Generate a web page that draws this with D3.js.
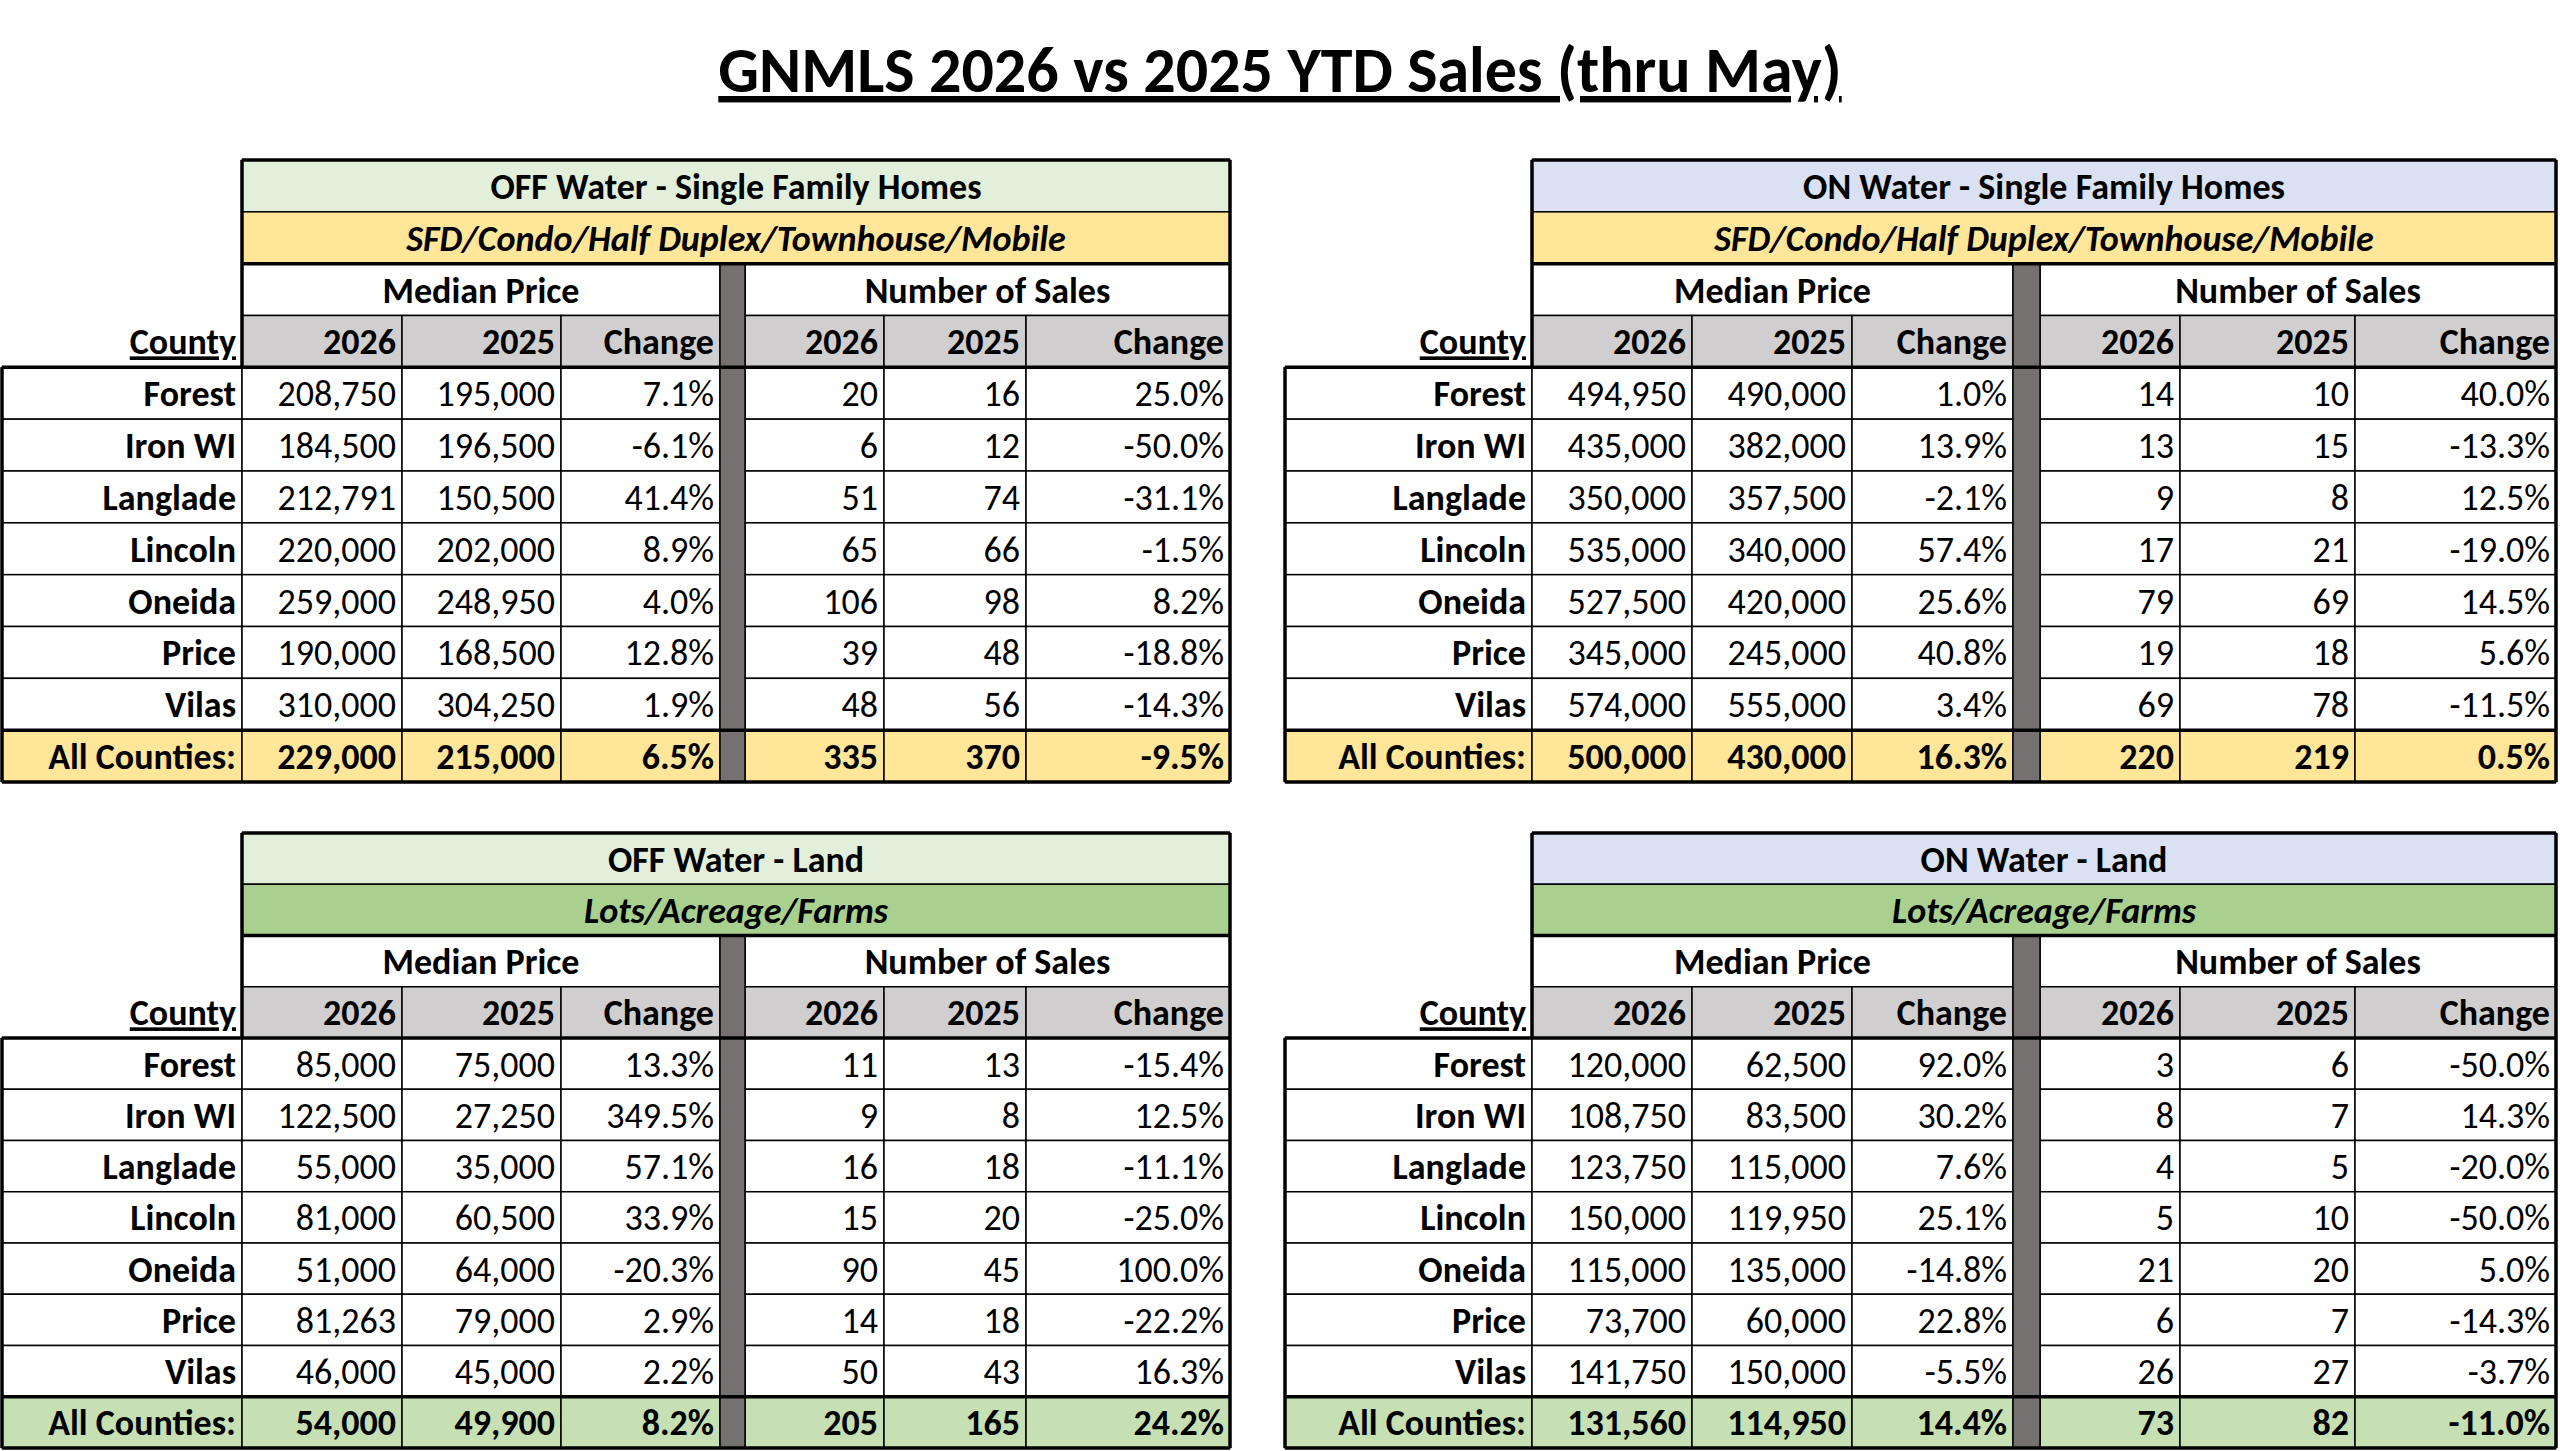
<!DOCTYPE html>
<html><head><meta charset="utf-8">
<script src="https://cdn.jsdelivr.net/npm/d3@7"></script>
<style>body{margin:0;background:#fff}svg{display:block}</style>
</head><body><svg id="c" width="2560" height="1451"></svg>
<script>
const counties = ["Forest","Iron WI","Langlade","Lincoln","Oneida","Price","Vilas"];
const totalLabel = "All Counties:";
const colHeads = ["2026","2025","Change","2026","2025","Change"];

const offHomes = [
  ["208,750","195,000","7.1%","20","16","25.0%"],
  ["184,500","196,500","-6.1%","6","12","-50.0%"],
  ["212,791","150,500","41.4%","51","74","-31.1%"],
  ["220,000","202,000","8.9%","65","66","-1.5%"],
  ["259,000","248,950","4.0%","106","98","8.2%"],
  ["190,000","168,500","12.8%","39","48","-18.8%"],
  ["310,000","304,250","1.9%","48","56","-14.3%"]];
const offHomesTotal = ["229,000","215,000","6.5%","335","370","-9.5%"];

const onHomes = [
  ["494,950","490,000","1.0%","14","10","40.0%"],
  ["435,000","382,000","13.9%","13","15","-13.3%"],
  ["350,000","357,500","-2.1%","9","8","12.5%"],
  ["535,000","340,000","57.4%","17","21","-19.0%"],
  ["527,500","420,000","25.6%","79","69","14.5%"],
  ["345,000","245,000","40.8%","19","18","5.6%"],
  ["574,000","555,000","3.4%","69","78","-11.5%"]];
const onHomesTotal = ["500,000","430,000","16.3%","220","219","0.5%"];

const offLand = [
  ["85,000","75,000","13.3%","11","13","-15.4%"],
  ["122,500","27,250","349.5%","9","8","12.5%"],
  ["55,000","35,000","57.1%","16","18","-11.1%"],
  ["81,000","60,500","33.9%","15","20","-25.0%"],
  ["51,000","64,000","-20.3%","90","45","100.0%"],
  ["81,263","79,000","2.9%","14","18","-22.2%"],
  ["46,000","45,000","2.2%","50","43","16.3%"]];
const offLandTotal = ["54,000","49,900","8.2%","205","165","24.2%"];

const onLand = [
  ["120,000","62,500","92.0%","3","6","-50.0%"],
  ["108,750","83,500","30.2%","8","7","14.3%"],
  ["123,750","115,000","7.6%","4","5","-20.0%"],
  ["150,000","119,950","25.1%","5","10","-50.0%"],
  ["115,000","135,000","-14.8%","21","20","5.0%"],
  ["73,700","60,000","22.8%","6","7","-14.3%"],
  ["141,750","150,000","-5.5%","26","27","-3.7%"]];
const onLandTotal = ["131,560","114,950","14.4%","73","82","-11.0%"];

const FONT = "'Liberation Sans Narrow','Carlito','Open Sans',sans-serif";
const svg = d3.select("#c");

svg.append("text").attr("x",1280).attr("y",92).attr("text-anchor","middle")
  .attr("font-family",FONT).attr("font-weight","bold").attr("font-size",64)
  .attr("text-decoration","underline").text("GNMLS 2026 vs 2025 YTD Sales (thru May)");

function table(x0, edges, y0, y1, t) {
  const g = svg.append("g").attr("font-family",FONT).attr("font-size",36);
  const rows = d3.range(12);
  const y = d3.scaleBand().domain(rows).range([y0,y1]);
  const h = y.bandwidth();
  const e = edges.map(v => v + x0);
  const colL = [e[1],e[2],e[3],e[5],e[6],e[7]];
  const colR = [e[2],e[3],e[4],e[6],e[7],e[8]];
  const rect = (x,yy,w,hh,fill,sw) => g.append("rect").attr("x",x).attr("y",yy).attr("width",w).attr("height",hh)
    .attr("fill",fill).attr("stroke","#000").attr("stroke-width",sw||1.5);
  const txt = (x,yy,s,anchor,opt) => {
    const tt = g.append("text").attr("x",x).attr("y",yy+h/2).attr("dy","0.36em").attr("text-anchor",anchor).text(s);
    if (opt && opt.bold) tt.attr("font-weight","bold");
    if (opt && opt.semi) tt.attr("font-weight",600);
    if (opt && opt.italic) tt.attr("font-style","italic");
    if (opt && opt.underline) tt.attr("text-decoration","underline");
    return tt;
  };
  rect(e[1],y(0),e[8]-e[1],h,t.head1);
  txt((e[1]+e[8])/2,y(0),t.title,"middle",{semi:true});
  rect(e[1],y(1),e[8]-e[1],h,t.head2);
  txt((e[1]+e[8])/2,y(1),t.sub,"middle",{bold:true,italic:true});
  rect(e[1],y(2),e[4]-e[1],h,"#fff");
  rect(e[5],y(2),e[8]-e[5],h,"#fff");
  txt((e[1]+e[4])/2,y(2),"Median Price","middle",{semi:true});
  txt((e[5]+e[8])/2,y(2),"Number of Sales","middle",{semi:true});
  txt(e[1]-6,y(3),"County","end",{bold:true,underline:true});
  colHeads.forEach((s,i) => {
    rect(colL[i],y(3),colR[i]-colL[i],h,"#d0cece");
    txt(colR[i]-6,y(3),s,"end",{bold:true});
  });
  t.data.forEach((r,ri) => {
    const yy = y(ri+4);
    rect(e[0],yy,e[1]-e[0],h,"#fff");
    txt(e[1]-6,yy,counties[ri],"end",{bold:true});
    r.forEach((v,i) => {
      rect(colL[i],yy,colR[i]-colL[i],h,"#fff");
      txt(colR[i]-6,yy,v,"end");
    });
  });
  const yt = y(11);
  rect(e[0],yt,e[1]-e[0],h,t.tot);
  txt(e[1]-6,yt,totalLabel,"end",{bold:true});
  t.total.forEach((v,i) => {
    rect(colL[i],yt,colR[i]-colL[i],h,t.tot);
    txt(colR[i]-6,yt,v,"end",{bold:true});
  });
  g.append("rect").attr("x",e[4]).attr("y",y(2)).attr("width",e[5]-e[4]).attr("height",y1-y(2))
    .attr("fill","#767171").attr("stroke","#000").attr("stroke-width",1.5);
  const thick = (x1,y1_,x2,y2) => g.append("line").attr("x1",x1).attr("y1",y1_).attr("x2",x2).attr("y2",y2)
    .attr("stroke","#000").attr("stroke-width",3.5);
  thick(e[1],y(0),e[8],y(0));
  thick(e[1],y(0),e[1],y(4));
  thick(e[8],y(0),e[8],y1);
  thick(e[1],y(2),e[8],y(2));
  thick(e[0],y(4),e[8],y(4));
  thick(e[0],y(4),e[0],y1);
  thick(e[0],y(11),e[8],y(11));
  thick(e[0],y1,e[8],y1);
}

const edgesL = [0,240,400,559,718,743,882,1024,1228];
const edgesR = [0,247,407,567,728,755,895,1070,1271];

table(2, edgesL, 160, 782, {title:"OFF Water - Single Family Homes", sub:"SFD/Condo/Half Duplex/Townhouse/Mobile",
  head1:"#e2efda", head2:"#ffe699", tot:"#ffe699", data:offHomes, total:offHomesTotal});
table(1285, edgesR, 160, 782, {title:"ON Water - Single Family Homes", sub:"SFD/Condo/Half Duplex/Townhouse/Mobile",
  head1:"#d9e1f2", head2:"#ffe699", tot:"#ffe699", data:onHomes, total:onHomesTotal});
table(2, edgesL, 833, 1448, {title:"OFF Water - Land", sub:"Lots/Acreage/Farms",
  head1:"#e2efda", head2:"#a9d08e", tot:"#c6e0b4", data:offLand, total:offLandTotal});
table(1285, edgesR, 833, 1448, {title:"ON Water - Land", sub:"Lots/Acreage/Farms",
  head1:"#d9e1f2", head2:"#a9d08e", tot:"#c6e0b4", data:onLand, total:onLandTotal});
</script></body></html>
